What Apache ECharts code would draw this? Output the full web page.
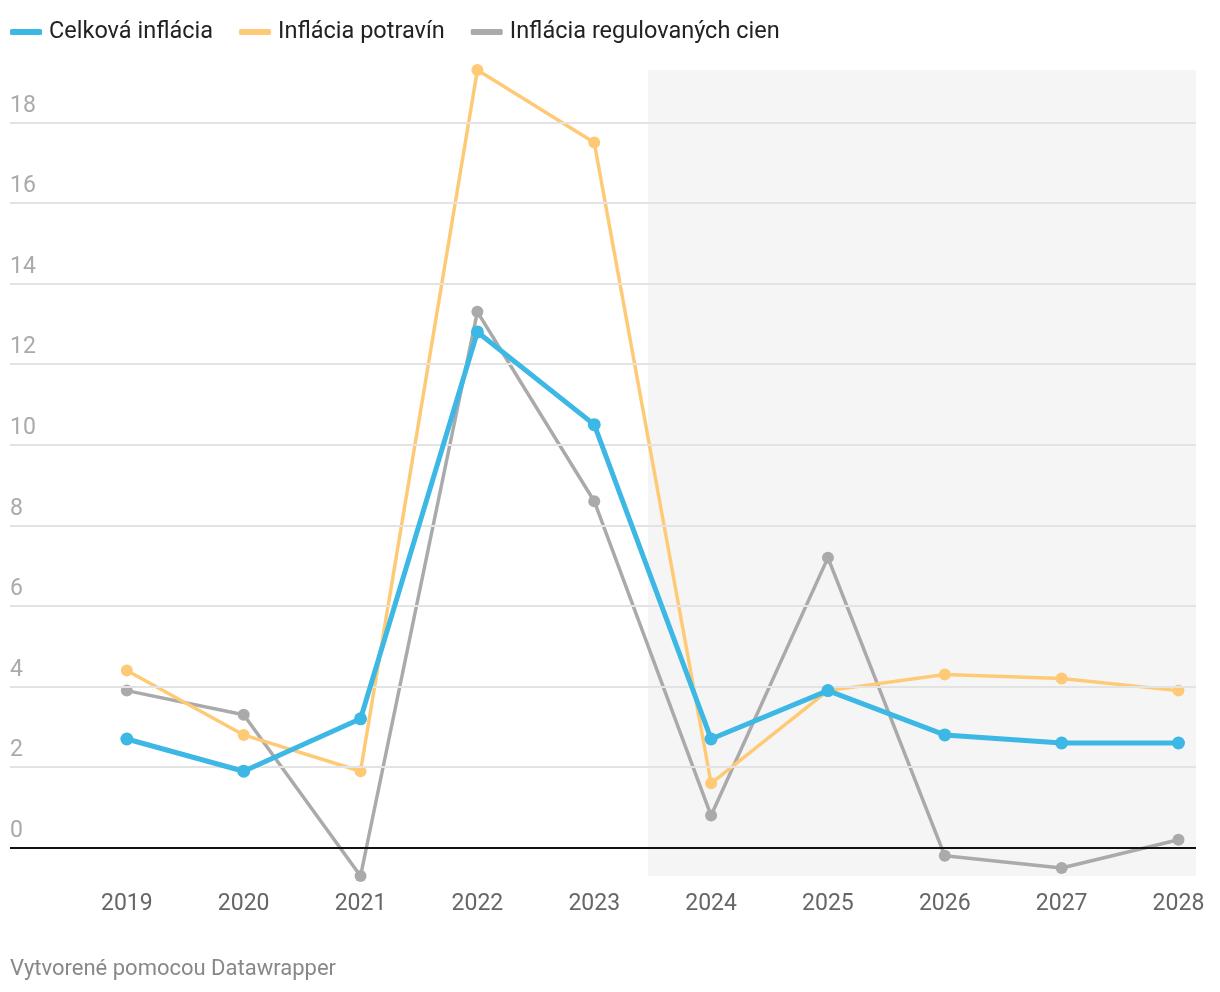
<!DOCTYPE html>
<html><head><meta charset="utf-8">
<script src="https://cdn.jsdelivr.net/npm/echarts@6/dist/echarts.min.js"></script>
<style>html,body{margin:0;padding:0;background:#fff}#c{width:1220px;height:992px}</style>
</head><body><div id="c"></div>
<script>
const years = [2019, 2020, 2021, 2022, 2023, 2024, 2025, 2026, 2027, 2028];
const celkova = [2.7, 1.9, 3.2, 12.8, 10.5, 2.7, 3.9, 2.8, 2.6, 2.6];
const potraviny = [4.4, 2.8, 1.9, 19.3, 17.5, 1.6, 3.9, 4.3, 4.2, 3.9];
const regulovane = [3.9, 3.3, -0.7, 13.3, 8.6, 0.8, 7.2, -0.2, -0.5, 0.2];
const yTicks = [0, 2, 4, 6, 8, 10, 12, 14, 16, 18];
const forecastStart = 2023.46;
const seriesNames = ['Celková inflácia', 'Inflácia potravín', 'Inflácia regulovaných cien'];

const pairs = arr => years.map((y, i) => [y, arr[i]]);
const font = 'Roboto, "Noto Sans", sans-serif';

const chart = echarts.init(document.getElementById('c'), null, {renderer: 'canvas'});
chart.setOption({
  animation: false,
  textStyle: {fontFamily: font},
  grid: {left: 10, right: 24, top: 70, bottom: 116, containLabel: false},
  legend: {
    left: 5, top: 15, itemWidth: 32, itemHeight: 6, itemGap: 26,
    icon: 'roundRect',
    data: seriesNames,
    textStyle: {fontSize: 23.5, color: '#222', fontFamily: font, padding: [0, 0, 0, 2]}
  },
  xAxis: {
    type: 'value', min: 2018, max: 2028.15, interval: 1,
    axisLine: {show: false}, axisTick: {show: false}, splitLine: {show: false},
    axisLabel: {
      color: '#666', fontSize: 23, margin: 17, fontFamily: font,
      showMaxLabel: false,
      formatter: v => years.indexOf(Math.round(v)) >= 0 && Math.abs(v - Math.round(v)) < 1e-6 ? String(Math.round(v)) : ''
    }
  },
  yAxis: {type: 'value', min: -0.7, max: 19.3, show: false, splitLine: {show: false}},
  graphic: [{
    type: 'text', left: 10, top: 958,
    style: {text: 'Vytvorené pomocou Datawrapper', fontSize: 22, fill: '#888', fontFamily: font}
  }],
  series: [
    {
      name: 'helper', type: 'line', data: [], z: 1, silent: true,
      markArea: {
        silent: true,
        itemStyle: {color: '#f5f5f5'},
        data: [[{xAxis: forecastStart}, {xAxis: 2028.15}]]
      },
      markLine: {
        silent: true, symbol: 'none', animation: false,
        label: {position: 'insideStartTop', color: '#aaa', fontSize: 23, fontFamily: font, distance: [0, 5], formatter: p => String(p.value)},
        data: yTicks.map(v => ({
          yAxis: v,
          lineStyle: {color: v === 0 ? '#111' : '#e3e3e3', width: 2, type: 'solid'}
        }))
      }
    },
    {
      name: seriesNames[2], type: 'line', data: pairs(regulovane), z: 3,
      color: '#aaaaaa', lineStyle: {width: 3.5}, symbol: 'circle', symbolSize: 12,
      itemStyle: {color: '#aaaaaa'}
    },
    {
      name: seriesNames[1], type: 'line', data: pairs(potraviny), z: 4,
      color: '#ffca76', lineStyle: {width: 3.5}, symbol: 'circle', symbolSize: 12,
      itemStyle: {color: '#ffca76'}
    },
    {
      name: seriesNames[0], type: 'line', data: pairs(celkova), z: 5,
      color: '#3db7e4', lineStyle: {width: 5}, symbol: 'circle', symbolSize: 13,
      itemStyle: {color: '#3db7e4'}
    }
  ]
});
</script></body></html>
